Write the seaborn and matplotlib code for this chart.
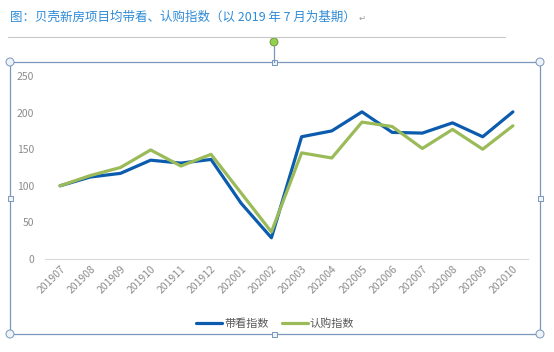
# 贝壳新房项目均带看、认购指数
import numpy as np
import pandas as pd
import matplotlib
matplotlib.use("Agg")
import matplotlib.pyplot as plt
import matplotlib.patches as mpatches
import seaborn as sns

months = ["201907", "201908", "201909", "201910", "201911", "201912",
          "202001", "202002", "202003", "202004", "202005", "202006",
          "202007", "202008", "202009", "202010"]
daikan = [100, 112, 117, 135, 131, 136, 76, 29, 167, 175, 201, 173, 172, 186, 167, 201]
rengou = [100, 114, 125, 149, 127, 143, 90, 37, 145, 138, 187, 181, 151, 177, 150, 182]
yticks = [0, 50, 100, 150, 200, 250]

df = pd.DataFrame({"月份": months, "带看指数": daikan, "认购指数": rengou})
long = df.melt(id_vars="月份", var_name="指数", value_name="值")

sns.set_style("white")
plt.rcParams["font.family"] = ["Noto Sans CJK SC", "DejaVu Sans"]

W, H = 554, 352
fig = plt.figure(figsize=(W / 100, H / 100), dpi=100)


def px(x, y):
    return (x / W, 1 - y / H)


ax = fig.add_axes([45 / W, 1 - 259 / H, 483 / W, 183 / H])
sns.lineplot(data=long, x="月份", y="值", hue="指数", sort=False,
             palette=["#0B5BAE", "#9BBB59"], linewidth=2.3, ax=ax)

ax.set_xlim(-0.5, len(months) - 0.5)
ax.set_ylim(0, 250)
ax.set_yticks(yticks)
ax.set_xlabel("")
ax.set_ylabel("")
for s in ["top", "right", "left"]:
    ax.spines[s].set_visible(False)
ax.spines["bottom"].set_color("#d9d9d9")
ax.spines["bottom"].set_linewidth(0.8)
ax.tick_params(axis="both", length=0, colors="#8c8c8c", labelsize=7.5)
ax.tick_params(axis="y", pad=8)
plt.setp(ax.get_xticklabels(), rotation=45, ha="right", rotation_mode="anchor")

leg = ax.legend(loc="upper center", bbox_to_anchor=(0.477, -0.27), ncol=2,
                frameon=False, fontsize=8, handlelength=2.3, columnspacing=1.2,
                handletextpad=0.2, labelcolor="#595959")
for h in leg.get_lines():
    h.set_linewidth(2.3)

# 标题和文档里的分隔线
fig.text(*px(10, 17), "图：贝壳新房项目均带看、认购指数（以 2019 年 7 月为基期）",
         color="#2E8BD6", fontsize=9, va="center", ha="left")
fig.text(*px(359, 18), "↵", color="#9a9a9a", fontsize=6, va="center",
         family=["DejaVu Sans"])
fig.add_artist(plt.Line2D([px(8, 0)[0], px(505, 0)[0]], [px(0, 37)[1]] * 2,
                          color="#c8c8c8", lw=0.8))

# 图表选择框
frame_c = "#7a96bd"
fig.add_artist(mpatches.Rectangle(px(10, 334), 530 / W, 272 / H, fill=False,
                                  ec=frame_c, lw=0.9))
fig.add_artist(plt.Line2D([px(274, 0)[0]] * 2, [px(0, 46)[1], px(0, 62)[1]],
                          color=frame_c, lw=0.9))
fig.add_artist(mpatches.Ellipse(px(274, 42), 8 / W, 8 / H, fc="#92d050",
                                ec="#6a8c3a", lw=0.6))
for x, y in [(10, 62), (540, 62), (10, 334), (540, 334)]:
    fig.add_artist(mpatches.Ellipse(px(x, y), 8 / W, 8 / H, fc="#eef3f8",
                                    ec=frame_c, lw=0.7))
for x, y in [(274, 62), (274, 334), (10, 198), (540, 198)]:
    fig.add_artist(mpatches.Rectangle(px(x - 2.5, y + 2.5), 5 / W, 5 / H,
                                      fc="#eef3f8", ec=frame_c, lw=0.7))

fig.savefig("out.png", dpi=100)
